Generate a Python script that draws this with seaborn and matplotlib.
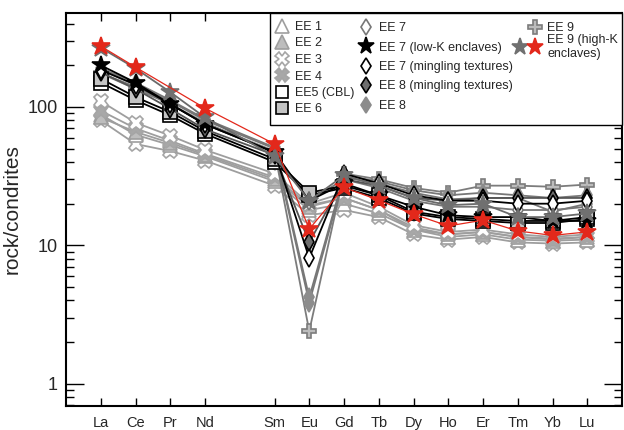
import numpy as np
import pandas as pd
import matplotlib
matplotlib.use("Agg")
import matplotlib.pyplot as plt
import seaborn as sns
from matplotlib.lines import Line2D
from matplotlib.patches import Rectangle
from matplotlib.legend_handler import HandlerTuple
from matplotlib.ticker import LogLocator, FuncFormatter, NullFormatter

# REE, chondrite normalised (Pm is left out, gap on the axis)
elements = ["La", "Ce", "Pr", "Nd", "Sm", "Eu", "Gd", "Tb", "Dy", "Ho", "Er", "Tm", "Yb", "Lu"]
positions = [1, 2, 3, 4, 6, 7, 8, 9, 10, 11, 12, 13, 14, 15]

ee1 = [88, 63, 53, 44, 29, 18, 20, 17, 13, 11.5, 12, 11, 10.8, 11]
ee2 = [84, 66, 55, 45, 30, 19, 22, 18, 13.5, 12, 12.5, 11.5, 11.2, 11.5]
ee3_a = [110, 77, 62, 49, 33, 20, 24, 19, 14, 12.5, 13, 12, 11.5, 12]
ee3_b = [80, 54, 48, 41, 27, 16.5, 18, 16, 12, 11, 11.5, 10.5, 10.3, 10.5]
ee4 = [94, 70, 57, 46, 31, 19.5, 22, 18, 13, 12, 12.5, 11.5, 11, 11.5]
ee5 = [150, 112, 87, 64, 40, 23, 26, 22, 17, 15.5, 15, 14.5, 14.5, 15.5]
ee6 = [160, 118, 92, 67, 42, 24, 27, 23, 17.5, 16, 15.5, 15, 15, 16]
ee7 = [175, 140, 105, 77, 47, 21, 30, 26, 21, 19, 19, 18, 18, 19]
ee7_lowk = [200, 150, 105, 75, 47, 21, 28, 23, 19, 16.5, 16, 16, 15, 15]
ee7_ming = [185, 145, 105, 75, 47, 8.1, 33, 28, 23, 21, 21, 20, 20, 21]
ee8_ming = [178, 135, 97, 69, 45, 10.5, 30, 27, 22, 21, 22, 22, 22, 22]
ee8_a = [185, 145, 110, 80, 50, 3.85, 31, 28, 24, 21.5, 22, 22, 17.5, 20]
ee8_b = [190, 150, 112, 82, 51, 4.2, 32, 29, 25, 23, 24, 23, 22, 23]
ee9 = [175, 135, 105, 76, 48, 2.4, 33, 30, 26, 24, 27, 27, 26.5, 27.5]
ee9_hk_grey = [268, 190, 128, 84, 44, 21, 32, 27, 22, 19.5, 20, 16, 16, 17]
ee9_hk_red = [275, 194, np.nan, 98, 54, 13.1, 26.2, 21.2, 16.8, 13.8, 15.2, 12.7, 11.8, 12.5]

LG = "#9e9e9e"
styles = {
    "EE 1": dict(marker="^", mfc="white", mec=LG, ms=10, lc=LG),
    "EE 2": dict(marker="^", mfc="#bdbdbd", mec=LG, ms=10, lc=LG),
    "EE 3": dict(marker="X", mfc="white", mec="#a5a5a5", ms=10.5, lc=LG),
    "EE 4": dict(marker="X", mfc="#a8a8a8", mec="#a5a5a5", ms=10.5, lc=LG),
    "EE5 (CBL)": dict(marker="s", mfc="white", mec="black", ms=9.5, lc="black"),
    "EE 6": dict(marker="s", mfc="#c4c4c4", mec="black", ms=9.5, lc="black"),
    "EE 7": dict(marker="d", mfc="white", mec="#777777", ms=9, lc="#777777"),
    "EE 7 (low-K enclaves)": dict(marker="*", mfc="black", mec="black", ms=13, lc="black"),
    "EE 7 (mingling textures)": dict(marker="d", mfc="white", mec="black", ms=9, lc="black"),
    "EE 8 (mingling textures)": dict(marker="d", mfc="#6e6e6e", mec="black", ms=9, lc="#555555"),
    "EE 8": dict(marker="d", mfc="#8c8c8c", mec="#8c8c8c", ms=9, lc="#777777"),
    "EE 9": dict(marker="P", mfc="#bcbcbc", mec="#7c7c7c", ms=10.5, lc="#7c7c7c"),
    "EE 9 hk grey": dict(marker="*", mfc="#707070", mec="#707070", ms=13.5, lc="#6a6a6a"),
    "EE 9 hk red": dict(marker="*", mfc="#e3281b", mec="#e3281b", ms=13.5, lc="#e3281b"),
}

samples = [
    ("EE 3", ee3_b), ("EE 1", ee1), ("EE 2", ee2), ("EE 4", ee4), ("EE 3", ee3_a),
    ("EE 9", ee9), ("EE 8", ee8_a), ("EE 8", ee8_b), ("EE 7", ee7),
    ("EE5 (CBL)", ee5), ("EE 6", ee6), ("EE 8 (mingling textures)", ee8_ming),
    ("EE 7 (mingling textures)", ee7_ming), ("EE 7 (low-K enclaves)", ee7_lowk),
    ("EE 9 hk grey", ee9_hk_grey), ("EE 9 hk red", ee9_hk_red),
]

sns.set_style("ticks")
plt.rcParams["font.family"] = ["Liberation Sans", "DejaVu Sans"]

fig, ax = plt.subplots(figsize=(6.24, 4.30), dpi=100)
fig.subplots_adjust(left=66 / 624, right=622 / 624, bottom=1 - 406 / 430, top=1 - 12.7 / 430)

for name, vals in samples:
    st = styles[name]
    df = pd.DataFrame({"pos": positions, "val": vals}).dropna()
    sns.lineplot(data=df, x="pos", y="val", ax=ax, color=st["lc"],
                 linewidth=0.9 if "red" in name else 1.3,
                 marker=st["marker"], markersize=st["ms"],
                 markerfacecolor=st["mfc"], markeredgecolor=st["mec"],
                 markeredgewidth=1.2, legend=False, errorbar=None)

ax.set_yscale("log")
ax.set_ylim(0.69, 480)
ax.set_xlim(0, 16)
ax.set_xticks(positions)
ax.set_xticklabels(elements, fontsize=10.5)
ax.yaxis.set_major_locator(LogLocator(base=10))
ax.yaxis.set_major_formatter(FuncFormatter(lambda v, _: f"{v:g}"))
ax.yaxis.set_minor_locator(LogLocator(base=10, subs=np.arange(2, 10)))
ax.yaxis.set_minor_formatter(NullFormatter())
ax.tick_params(which="both", direction="in", top=True, right=True, width=1, color="black")
ax.tick_params(axis="y", which="major", length=13, labelsize=13, pad=6)
ax.tick_params(axis="y", which="minor", length=6)
ax.tick_params(axis="x", which="major", length=6, pad=7)
ax.set_xlabel("")
ax.set_ylabel("rock/condrites", fontsize=15, labelpad=4)
for s in ax.spines.values():
    s.set_linewidth(1.5)
    s.set_color("black")


def handle(name, scale=0.95):
    st = styles[name]
    return Line2D([], [], ls="none", marker=st["marker"], ms=st["ms"] * scale,
                  mfc=st["mfc"], mec=st["mec"], mew=1.2)


ax.add_patch(Rectangle((270 / 624, 1 - 125 / 430), (622 - 270) / 624, (125 - 12.7) / 430,
                       transform=fig.transFigure, fc="white", ec="black", lw=1,
                       zorder=4, clip_on=False))

col1 = ["EE 1", "EE 2", "EE 3", "EE 4", "EE5 (CBL)", "EE 6"]
col2 = ["EE 7", "EE 7 (low-K enclaves)", "EE 7 (mingling textures)",
        "EE 8 (mingling textures)", "EE 8"]
lkw = dict(loc="upper left", bbox_transform=fig.transFigure, frameon=False, fontsize=9,
           borderpad=0, borderaxespad=0, handletextpad=0.45)

leg1 = ax.legend([handle(n) for n in col1], col1, bbox_to_anchor=(274 / 624, 1 - 21 / 430),
                 handlelength=1.2, labelspacing=0.36, **lkw)
ax.add_artist(leg1)
leg2 = ax.legend([handle(n) for n in col2], col2, bbox_to_anchor=(358 / 624, 1 - 22 / 430),
                 handlelength=1.2, labelspacing=0.6, **lkw)
ax.add_artist(leg2)
blank = Line2D([], [], ls="none")
leg3 = ax.legend([(blank, handle("EE 9")), (handle("EE 9 hk grey"), handle("EE 9 hk red"))],
                 ["EE 9", "EE 9 (high-K\nenclaves)"],
                 bbox_to_anchor=(513 / 624, 1 - 22 / 430), handlelength=2.3,
                 labelspacing=0.0, handler_map={tuple: HandlerTuple(ndivide=None, pad=0)},
                 **lkw)
for lg in (leg1, leg2, leg3):
    lg.set_zorder(5)

fig.savefig("out.png", dpi=100)
